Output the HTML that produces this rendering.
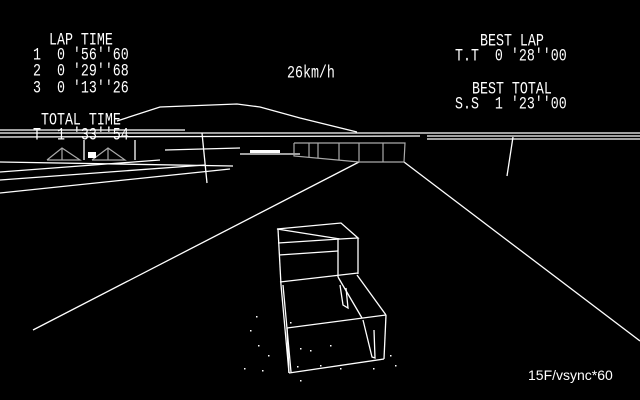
<!DOCTYPE html>
<html><head><style>
html,body{margin:0;padding:0;background:#000;width:640px;height:400px;overflow:hidden;position:relative}
svg{display:block;position:absolute;left:0;top:0}
.t{position:absolute;font-family:"Liberation Mono",monospace;font-size:13.3px;line-height:13px;color:#fff;white-space:pre;transform:scaleY(1.35);transform-origin:0 0}
</style></head><body>
<svg width="640" height="400" viewBox="0 0 640 400" xmlns="http://www.w3.org/2000/svg">
<rect width="640" height="400" fill="#000"/>
<g stroke="#fff" stroke-width="1.3" fill="none">
<polyline points="117,121 160,107 237,104 260,107 300,118 357,132"/>
<line x1="0" y1="130" x2="185" y2="130"/>
<line x1="0" y1="133" x2="640" y2="133"/>
<line x1="0" y1="137" x2="420" y2="136"/>
<line x1="427" y1="136" x2="640" y2="136"/>
<line x1="427" y1="139" x2="640" y2="139"/>
<line x1="0" y1="162" x2="233" y2="166"/>
<line x1="0" y1="180" x2="205" y2="165"/>
<line x1="0" y1="193" x2="230" y2="169"/>
<line x1="0" y1="172" x2="160" y2="160"/>
<line x1="135" y1="140" x2="135" y2="160"/>
<line x1="84" y1="140" x2="84" y2="160"/>
<line x1="165" y1="150" x2="240" y2="148"/>
<line x1="202" y1="133" x2="207" y2="183"/>
<line x1="513" y1="137" x2="507" y2="176"/>
<line x1="33" y1="330" x2="359" y2="162"/>
<line x1="404" y1="162" x2="640" y2="341"/>
<line x1="240" y1="154" x2="300" y2="154"/>
</g>
<g stroke="#aaa" stroke-width="1.2" fill="none">
<polyline points="47,160 62,148 80,160 47,160"/>
<line x1="62" y1="148" x2="62" y2="160"/>
<polyline points="92,160 108,148 125,160 92,160"/>
<line x1="108" y1="148" x2="108" y2="160"/>
<polyline points="294,143 405,143 404,162 359,162 294,156 294,143"/>
<line x1="309" y1="143" x2="309" y2="157"/>
<line x1="318" y1="143" x2="318" y2="158"/>
<line x1="339" y1="143" x2="339" y2="160"/>
<line x1="359" y1="143" x2="359" y2="162"/>
<line x1="383" y1="143" x2="383" y2="162"/>
</g>
<g fill="#fff"><rect x="88" y="152" width="8" height="6"/><rect x="250" y="150" width="30" height="3"/></g>
<g stroke="#fff" stroke-width="1.3" fill="none">
<polygon points="277,229 341,223 358,238 340,239"/>
<line x1="278" y1="229" x2="281" y2="285"/>
<line x1="358" y1="238" x2="358" y2="274"/>
<line x1="338" y1="238" x2="338" y2="277"/>
<line x1="278" y1="243" x2="340" y2="239"/>
<line x1="279" y1="255" x2="338" y2="251"/>
<line x1="280" y1="282" x2="358" y2="273"/>
<line x1="281" y1="285" x2="289" y2="373"/>
<line x1="283" y1="285" x2="291" y2="372"/>
<line x1="289" y1="373" x2="384" y2="359"/>
<line x1="386" y1="315" x2="384" y2="359"/>
<line x1="287" y1="328" x2="386" y2="315"/>
<line x1="287" y1="328" x2="289" y2="373"/>
<line x1="357" y1="275" x2="386" y2="315"/>
<line x1="338" y1="277" x2="362" y2="318"/>
<polyline points="340,285 343,305 348,308 346,288"/>
<polyline points="363,320 372,357 375,358 374,330"/>
</g>
<g fill="#fff">
<rect x="250" y="330" width="1.5" height="1.5"/><rect x="258" y="345" width="1.5" height="1.5"/><rect x="262" y="370" width="1.5" height="1.5"/><rect x="244" y="368" width="1.5" height="1.5"/><rect x="268" y="355" width="1.5" height="1.5"/><rect x="300" y="348" width="1.5" height="1.5"/><rect x="310" y="350" width="1.5" height="1.5"/><rect x="320" y="365" width="1.5" height="1.5"/><rect x="330" y="345" width="1.5" height="1.5"/><rect x="340" y="368" width="1.5" height="1.5"/><rect x="300" y="380" width="1.5" height="1.5"/><rect x="390" y="355" width="1.5" height="1.5"/><rect x="395" y="365" width="1.5" height="1.5"/><rect x="297" y="366" width="1.5" height="1.5"/><rect x="373" y="368" width="1.5" height="1.5"/><rect x="256" y="316" width="1.5" height="1.5"/><rect x="290" y="322" width="1.5" height="1.5"/>
</g>
</svg>
<div class="t" style="left:49px;top:31px">LAP TIME</div>
<div class="t" style="left:33px;top:46px">1  0 '56''60</div>
<div class="t" style="left:33px;top:62px">2  0 '29''68</div>
<div class="t" style="left:33px;top:79px">3  0 '13''26</div>
<div class="t" style="left:41px;top:111px">TOTAL TIME</div>
<div class="t" style="left:33px;top:126px">T  1 '33''54</div>
<div class="t" style="left:287px;top:64px">26km/h</div>
<div class="t" style="left:480px;top:32px">BEST LAP</div>
<div class="t" style="left:455px;top:47px">T.T  0 '28''00</div>
<div class="t" style="left:472px;top:80px">BEST TOTAL</div>
<div class="t" style="left:455px;top:95px">S.S  1 '23''00</div>
<div style="position:absolute;left:528px;top:367px;font-family:'Liberation Sans',sans-serif;font-size:14px;color:#fff;line-height:16px">15F/vsync*60</div>
</body></html>
